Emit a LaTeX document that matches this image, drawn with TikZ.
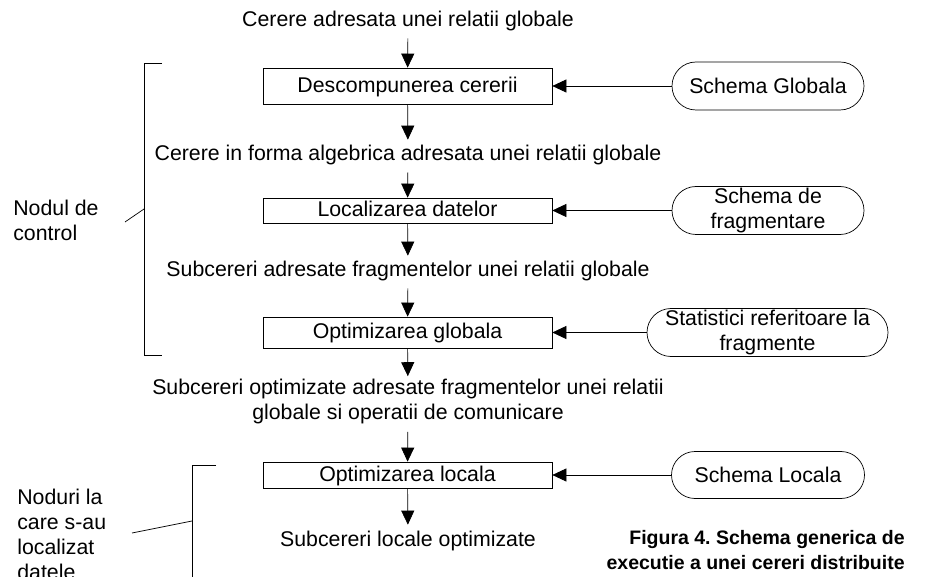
\documentclass[tikz,border=0pt]{standalone}
\usepackage{fontspec}
\setmainfont{Liberation Sans}
\usetikzlibrary{arrows.meta}
\usetikzlibrary{shapes.misc}

\begin{document}
\frenchspacing
\begin{tikzpicture}[x=1pt, y=-1pt,
            font=\fontsize{21.3}{25}\selectfont,
            line width=0.7pt,
            flow/.style={-{Triangle[length=14pt, width=13pt]}},
            stage/.style={draw, rectangle, minimum width=289pt, inner sep=0pt, text height=15pt, text depth=2pt},
            request/.style={align=center, inner xsep=0pt, inner ysep=6.5pt, text height=14.5pt, text depth=4.5pt},
            schema/.style={draw, rounded rectangle, align=center, inner sep=0pt, minimum height=48pt},
            side/.style={align=left, inner sep=0pt, anchor=west}
        ]
            \clip (0, 0) rectangle (932, 577);

            % processing stages
            \node[stage, minimum height=36pt] (decomp) at (407.5, 86) {Descompunerea cererii};
            \node[stage, minimum height=25pt] (local) at (407.5, 210.5) {Localizarea datelor};
            \node[stage, minimum height=31pt] (globopt) at (407.5, 332.5) {Optimizarea globala};
            \node[stage, minimum height=26pt] (locopt) at (407.5, 475) {Optimizarea locala};

            % what flows between the stages
            \node[request] (q0) at (408, 22) {Cerere adresata unei relatii globale};
            \node[request] (q1) at (408, 156) {Cerere in forma algebrica adresata unei relatii globale};
            \node[request] (q2) at (408, 272) {Subcereri adresate fragmentelor unei relatii globale};
            \node[align=center, inner xsep=0pt, inner ysep=2pt] (q3) at (408, 401) {Subcereri optimizate adresate fragmentelor unei relatii\\globale si operatii de comunicare};
            \node[request] (q4) at (408, 541) {Subcereri locale optimizate};

            \draw[flow] (q0) -- (decomp);
            \draw[flow] (decomp) -- (q1);
            \draw[flow] (q1) -- (local);
            \draw[flow] (local) -- (q2);
            \draw[flow] (q2) -- (globopt);
            \draw[flow] (globopt) -- (q3);
            \draw[flow, shorten <=6pt] (q3) -- (locopt);
            \draw[flow] (locopt) -- (q4);

            % schemas feeding the stages
            \node[schema, minimum width=192pt] (sglob) at (768, 86) {Schema Globala};
            \node[schema, minimum width=192pt] (sfrag) at (768, 210.5) {Schema de\\fragmentare};
            \node[schema, minimum width=241pt] (sstat) at (767.5, 332.5) {Statistici referitoare la\\fragmente};
            \node[schema, minimum width=193pt, minimum height=47pt] (sloc) at (768, 475) {Schema Locala};

            \draw[flow] (sglob.west) -- (sglob.west -| decomp.east);
            \draw[flow] (sfrag.west) -- (sfrag.west -| local.east);
            \draw[flow] (sstat.west) -- (sstat.west -| globopt.east);
            \draw[flow] (sloc.west) -- (sloc.west -| locopt.east);

            % control node bracket
            \node[side] (ctrl) at (13, 220.5) {Nodul de\\control};
            \draw (162, 63) -- (144, 63) -- (144, 355) -- (162, 355);
            \coordinate (ctrltip) at (144, 209);
            \coordinate (ctrlend) at (125, 222);
            \draw (ctrlend) -- (ctrltip);

            % data nodes bracket
            \node[side] (data) at (17, 534.5) {Noduri la\\care s-au\\localizat\\datele};
            \draw (216, 465) -- (192, 465) -- (192, 600);
            \coordinate (datatip) at (192, 521);
            \coordinate (dataend) at (132, 533);
            \draw (dataend) -- (datatip);

            % caption
            \node[align=right, anchor=east, inner sep=0pt, font=\fontsize{19.5}{25}\selectfont\bfseries] (caption) at (905, 550.5) {Figura 4. Schema generica de\\executie a unei cereri distribuite};

        \end{tikzpicture}
\end{document}
